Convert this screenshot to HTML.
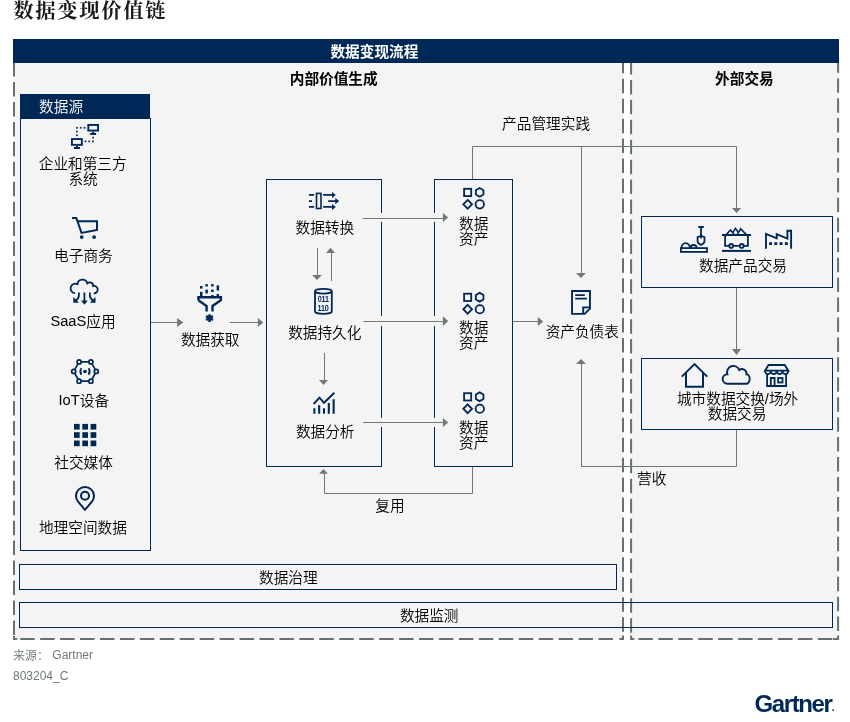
<!DOCTYPE html>
<html lang="zh-CN">
<head>
<meta charset="utf-8">
<title>数据变现价值链</title>
<style>
html,body{margin:0;padding:0;background:#fff;}
body{width:850px;height:722px;overflow:hidden;position:relative;}
svg{position:absolute;left:0;top:0;display:block;will-change:transform;}
text{font-family:"Liberation Sans","Noto Sans CJK SC",sans-serif;font-size:14.67px;font-weight:350;fill:#000;}
.t{font-family:"Liberation Serif","Noto Serif CJK SC",serif;font-size:20.4px;letter-spacing:1.6px;font-weight:700;fill:#1a1a1a;}
.b{font-weight:700;}
.w{fill:#fff;}
.c{text-anchor:middle;}
.g{fill:#6f7878;font-size:12px;}
.bx{fill:none;stroke:#002856;stroke-width:1;}
.ln{fill:none;stroke:#6f7878;stroke-width:1;}
.ah{fill:#6f7878;stroke:none;}
.dv{fill:none;stroke:#667070;stroke-width:2;stroke-dasharray:14.5 5.44;}
.ds{fill:none;stroke:#667070;stroke-width:2;}
.ic{fill:none;stroke:#002856;stroke-width:1.6;stroke-linejoin:miter;}
.icf{fill:#002856;stroke:none;}
.halo{fill:#f4f4f4;stroke:none;}
.dg{font-size:8.8px;font-weight:700;fill:#002856;letter-spacing:-0.25px;text-rendering:geometricPrecision;}
</style>
</head>
<body>
<svg width="850" height="722" viewBox="0 0 850 722">
<!-- title -->
<text class="t" x="13.2" y="18.4">数据变现价值链</text>

<!-- backgrounds -->
<rect x="14" y="63" width="609" height="576" fill="#f4f4f4"/>
<rect x="631" y="63" width="207" height="576" fill="#f4f4f4"/>

<!-- dashed frames -->
<g id="dashes">
<line class="dv" x1="14" y1="62.06" x2="14" y2="635"/>
<line class="dv" x1="623" y1="58.86" x2="623" y2="633"/>
<line class="dv" x1="631.1" y1="59.96" x2="631.1" y2="633.5"/>
<line class="dv" x1="838.1" y1="58.26" x2="838.1" y2="632"/>
<path class="ds" d="M14 636V639H17.2"/>
<line class="dv" x1="20.2" y1="639" x2="614" y2="639"/>
<path class="ds" d="M619.4 639H623V635.4"/>
<path class="ds" d="M631.1 635.4V639H634.3"/>
<line class="dv" x1="638.4" y1="639" x2="833" y2="639"/>
<path class="ds" d="M833 639H838.1V635.4"/>
</g>

<!-- header bar -->
<rect x="13" y="39" width="826" height="24" fill="#002856"/>
<text class="b w c" x="374.4" y="57">数据变现流程</text>
<text class="b c" x="333.7" y="84">内部价值生成</text>
<text class="b c" x="744.4" y="84">外部交易</text>

<!-- data source -->
<rect x="20" y="94" width="130" height="25" fill="#002856"/>
<text class="w" x="39.1" y="112">数据源</text>
<rect class="bx" x="20.5" y="118.5" width="130" height="432"/>
<text class="c" x="82.7" y="169">企业和第三方</text>
<text class="c" x="83.1" y="184">系统</text>
<text class="c" x="83.4" y="261">电子商务</text>
<text class="c" x="83.0" y="327"><tspan dy="-1">SaaS</tspan><tspan dy="1">应用</tspan></text>
<text class="c" x="83.8" y="406"><tspan dy="-1">IoT</tspan><tspan dy="1">设备</tspan></text>
<text class="c" x="83.6" y="468">社交媒体</text>
<text class="c" x="82.9" y="533">地理空间数据</text>

<!-- boxes -->
<rect class="bx" x="266.5" y="179.5" width="115" height="287"/>
<rect class="bx" x="434.5" y="179.5" width="78" height="287"/>
<rect class="bx" x="641.5" y="216.5" width="191" height="71"/>
<rect class="bx" x="641.5" y="358.5" width="191" height="71"/>
<rect class="bx" x="19.5" y="564.5" width="597" height="25"/>
<rect class="bx" x="19.5" y="602.5" width="813" height="25"/>

<!-- halos where arrows cross box borders -->
<rect class="halo" x="380" y="212.9" width="3" height="8.9"/>
<rect class="halo" x="380" y="315.9" width="3" height="10"/>
<rect class="halo" x="380" y="417.9" width="3" height="9"/>
<rect class="halo" x="433" y="212.9" width="3" height="8.9"/>
<rect class="halo" x="433" y="315.9" width="3" height="10"/>
<rect class="halo" x="433" y="417.9" width="3" height="9"/>

<!-- connector lines -->
<g id="lines">
<line class="ln" x1="151" y1="322.5" x2="178" y2="322.5"/>
<path class="ah" d="M177.2 318L183.3 322.5L177.2 327Z"/>
<line class="ln" x1="229.8" y1="322.5" x2="258.5" y2="322.5"/>
<path class="ah" d="M257.9 318L263.3 322.5L257.9 327Z"/>

<line class="ln" x1="362.8" y1="218.5" x2="443.5" y2="218.5"/>
<path class="ah" d="M442.9 213L448.2 217.6L442.9 222.1Z"/>
<line class="ln" x1="363.4" y1="321.5" x2="443.5" y2="321.5"/>
<path class="ah" d="M442.9 316.2L448.2 321.1L442.9 326Z"/>
<line class="ln" x1="363.2" y1="422.5" x2="443.5" y2="422.5"/>
<path class="ah" d="M442.9 418L448.2 422.5L442.9 427Z"/>

<line class="ln" x1="317.5" y1="248" x2="317.5" y2="276"/>
<path class="ah" d="M312.1 275H321.9L317 280Z"/>
<line class="ln" x1="331.5" y1="252" x2="331.5" y2="281"/>
<path class="ah" d="M326 252.9H335.1L330.55 247.8Z"/>
<line class="ln" x1="324.5" y1="353" x2="324.5" y2="381"/>
<path class="ah" d="M319 380.1H328L323.5 385Z"/>

<!-- reuse -->
<path class="ln" d="M472.5 467V493.5H324.5V473"/>
<path class="ah" d="M319.1 473.8H327.9L323.5 468.9Z"/>

<!-- product mgmt -->
<path class="ln" d="M472.5 179V146.5H736.5V208.5"/>
<path class="ah" d="M732 208H741.1L736.55 213Z"/>
<line class="ln" x1="581.5" y1="146.5" x2="581.5" y2="273.5"/>
<path class="ah" d="M576 272.9H585.9L581 277.9Z"/>

<!-- asset -> balance -->
<line class="ln" x1="513" y1="321.5" x2="538.5" y2="321.5"/>
<path class="ah" d="M537.9 317L543.2 321.5L537.9 326Z"/>

<!-- box4 -> box5 -->
<line class="ln" x1="736.5" y1="288" x2="736.5" y2="349.5"/>
<path class="ah" d="M732 349H741.1L736.55 355Z"/>

<!-- revenue -->
<path class="ln" d="M736.5 430V466.5H581.5V363"/>
<path class="ah" d="M576 363.9H586L581 358.9Z"/>
</g>

<!-- labels -->
<text class="c" x="210.2" y="345">数据获取</text>
<text class="c" x="324.8" y="233">数据转换</text>
<text class="c" x="324.8" y="338">数据持久化</text>
<text class="c" x="325.2" y="437">数据分析</text>
<text class="c" x="473.7" y="229">数据</text>
<text class="c" x="473.7" y="244">资产</text>
<text class="c" x="473.7" y="333">数据</text>
<text class="c" x="473.7" y="348">资产</text>
<text class="c" x="473.7" y="433">数据</text>
<text class="c" x="473.7" y="448">资产</text>
<text class="c" x="582.3" y="337">资产负债表</text>
<text class="c" x="546.1" y="129">产品管理实践</text>
<text class="c" x="390.0" y="511">复用</text>
<text class="c" x="651.7" y="484">营收</text>
<text class="c" x="743.0" y="271">数据产品交易</text>
<text class="c" x="737.6" y="404">城市数据交换/场外</text>
<text class="c" x="737.1" y="419">数据交易</text>
<text class="c" x="288.3" y="583">数据治理</text>
<text class="c" x="429.2" y="621">数据监测</text>

<!-- footer -->
<text class="g" x="13" y="660">来源：<tspan dy="-1"> Gartner</tspan></text>
<text class="g" x="13" y="680">803204_C</text>
<text x="754.6" y="711.8" style="font-weight:700;font-size:24px;fill:#002856;letter-spacing:-1.4px">Gartner<tspan style="font-size:10px;letter-spacing:0" dx="0.3" dy="-0.6">.</tspan></text>

<!-- ICONS -->
<g id="icons">
<!-- network / enterprise systems -->
<g class="ic" style="stroke-width:1.9">
<rect x="88.3" y="124.95" width="9.75" height="5.6"/>
<path d="M93.2 131.5V133.6M90.2 134H96.1"/>
<rect x="71.95" y="139.05" width="9.9" height="5.8"/>
<path d="M76.9 145.8V147.6M73.9 148.05H80"/>
</g>
<g class="icf">
<rect x="76.05" y="126.95" width="1.7" height="1.7"/><rect x="79.85" y="126.95" width="1.7" height="1.7"/><rect x="83.65" y="126.95" width="1.7" height="1.7"/>
<rect x="76.05" y="130.65" width="1.7" height="1.7"/><rect x="76.05" y="134.45" width="1.7" height="1.7"/>
<rect x="84.65" y="140.55" width="1.7" height="1.7"/><rect x="88.35" y="140.55" width="1.7" height="1.7"/><rect x="92.25" y="140.55" width="1.7" height="1.7"/>
<rect x="92.25" y="136.75" width="1.7" height="1.7"/>
</g>
<!-- shopping cart -->
<path class="ic" style="stroke-width:2" d="M72 218H76.3L81.5 232.9L97 229.9V221.2H77.5"/>
<circle class="icf" cx="81.7" cy="237.1" r="1.9"/><circle class="icf" cx="94.1" cy="237.1" r="1.9"/>
<!-- cloud with arrows (SaaS) -->
<path class="ic" style="stroke-width:1.8;stroke-linecap:butt" d="M75.1 293.2A4.8 4.8 0 1 1 77.5 284.1A5 5 0 0 1 87.35 283.4A3.4 3.4 0 0 1 93.2 286A3.7 3.7 0 1 1 93.7 293.3"/>
<path class="ic" style="stroke-width:1.8" d="M84.4 292.4V301M78.9 292.4V295.5Q78.9 298.6 75.5 300.6M89.9 292.4V295.5Q89.9 298.6 93.3 300.6"/>
<path class="icf" d="M81 300.5H87.8L84.4 304.8ZM73.3 296.9V302.7H79ZM95.5 296.9V302.7H89.8Z"/>
<!-- IoT -->
<g class="ic" style="stroke-width:1.7">
<path d="M79.1 361.9H90.9L96.3 371.4L90.9 381.2H79.1L73.7 371.4Z"/>
<circle cx="79.1" cy="361.9" r="2.05" fill="#f4f4f4"/><circle cx="90.9" cy="361.9" r="2.05" fill="#f4f4f4"/>
<circle cx="73.7" cy="371.4" r="2.05" fill="#f4f4f4"/><circle cx="96.3" cy="371.4" r="2.05" fill="#f4f4f4"/>
<circle cx="79.1" cy="381.2" r="2.05" fill="#f4f4f4"/><circle cx="90.9" cy="381.2" r="2.05" fill="#f4f4f4"/>
<path d="M81.4 368.3Q79.2 371.5 81.4 374.7M88.6 368.3Q90.8 371.5 88.6 374.7" style="stroke-width:1.8"/>
</g>
<circle class="icf" cx="85" cy="371.5" r="1.8"/>
<!-- grid -->
<g class="icf">
<rect x="74.0" y="423.9" width="5.7" height="5.7"/><rect x="82.3" y="423.9" width="5.7" height="5.7"/><rect x="90.6" y="423.9" width="5.7" height="5.7"/>
<rect x="74.0" y="432.2" width="5.7" height="5.7"/><rect x="82.3" y="432.2" width="5.7" height="5.7"/><rect x="90.6" y="432.2" width="5.7" height="5.7"/>
<rect x="74.0" y="440.5" width="5.7" height="5.7"/><rect x="82.3" y="440.5" width="5.7" height="5.7"/><rect x="90.6" y="440.5" width="5.7" height="5.7"/>
</g>
<!-- pin -->
<path class="ic" style="stroke-width:2" d="M85 509.8L78.1 501.7A9 9 0 1 1 91.9 501.7Z"/>
<circle class="ic" style="stroke-width:2" cx="85" cy="495.7" r="4"/>
<!-- funnel -->
<path class="ic" style="stroke-width:2.4" d="M198.4 300.2V297.3H220.9V300.2L212.5 306V311.6M198.4 300.2L206.6 306V311.6"/>
<g class="icf">
<rect x="200" y="286" width="2.5" height="2.6"/><rect x="200" y="291.8" width="2.5" height="5"/>
<rect x="205.4" y="284.1" width="2.5" height="2.4"/><rect x="205.4" y="289.6" width="2.5" height="3.8"/>
<rect x="211.1" y="284.1" width="2.5" height="2.4"/><rect x="211.1" y="289.6" width="2.5" height="2.5"/><rect x="211.1" y="295" width="2.5" height="1.5"/>
<rect x="216.6" y="285.4" width="2.5" height="5.1"/><rect x="216.6" y="294" width="2.5" height="2.6"/>
</g>
<path class="ic" style="stroke-width:2.5" d="M209.5 314.3V321.9M206 316.2L213 320M206 320L213 316.2"/>
<!-- transform -->
<g class="ic" style="stroke-width:1.7">
<path d="M308.9 194.9H314.1M308.9 201.1H312M308.9 206.9H314.1"/>
<rect x="316.5" y="193.4" width="4.5" height="15.1" style="stroke-width:1.6"/>
<path d="M323.1 194.9H333M328.2 201.1H336.5M323.1 206.9H333"/>
</g>
<path class="icf" d="M332 191.9L335.8 194.9L332 197.9ZM335.3 198L339.2 201.1L335.3 204.2ZM332 203.9L335.8 206.9L332 209.9Z"/>
<!-- database -->
<g class="ic" style="stroke-width:1.8">
<ellipse cx="323.4" cy="291.2" rx="8.4" ry="2.4"/>
<path d="M315 291.2V311.4A8.4 2.4 0 0 0 331.8 311.4V291.2"/>
</g>
<text class="dg" transform="translate(317.7 302.4) scale(0.82 1)">011</text>
<text class="dg" transform="translate(317.5 310.8) scale(0.82 1)">110</text>
<!-- chart -->
<g class="ic" style="stroke-width:2.1">
<path d="M314.35 408.2V413.8M319.15 405.2V413.8M324 408.2V413.8M328.8 403V413.8M333.65 399.2V413.8"/>
<path d="M313.6 404L319.5 397.7L324 402.8L334.4 392.7" style="stroke-width:1.9"/>
</g>
<!-- asset icons -->
<g class="ic" style="stroke-width:1.8" transform="translate(0 0)">
<rect x="464.1" y="188.8" width="7.1" height="7.3"/>
<path d="M479.65 188L483.45 190.15V194.55L479.65 196.7L475.85 194.55V190.15Z"/>
<path d="M467.65 199.95L472 204.35L467.65 208.75L463.3 204.35Z"/>
<circle cx="479.8" cy="204.35" r="4.2"/>
</g>
<g class="ic" style="stroke-width:1.8" transform="translate(0 104.9)">
<rect x="464.1" y="188.8" width="7.1" height="7.3"/>
<path d="M479.65 188L483.45 190.15V194.55L479.65 196.7L475.85 194.55V190.15Z"/>
<path d="M467.65 199.95L472 204.35L467.65 208.75L463.3 204.35Z"/>
<circle cx="479.8" cy="204.35" r="4.2"/>
</g>
<g class="ic" style="stroke-width:1.8" transform="translate(0 204.4)">
<rect x="464.1" y="188.8" width="7.1" height="7.3"/>
<path d="M479.65 188L483.45 190.15V194.55L479.65 196.7L475.85 194.55V190.15Z"/>
<path d="M467.65 199.95L472 204.35L467.65 208.75L463.3 204.35Z"/>
<circle cx="479.8" cy="204.35" r="4.2"/>
</g>
<!-- document -->
<g class="ic" style="stroke-width:1.9">
<path d="M572.05 290.95H589.95V308.6L584.7 313.85H572.05Z"/>
<path d="M583.2 313.5V307.4H589.6"/>
<path d="M575.2 295.1H584.8M575.2 298.7H586.9" style="stroke-width:1.7"/>
</g>
<!-- shovel -->
<g class="ic" style="stroke-width:1.8">
<rect x="680.9" y="248.1" width="26.1" height="3.8"/>
<path d="M681.5 248A4.2 4.9 0 0 1 689.9 248M690.6 248A3.05 3 0 0 1 696.7 248"/>
<path d="M698.3 227H703.8M701 227V238.6"/>
<path d="M697.6 237.2Q699.6 236.6 701 235.4Q702.4 236.6 704.5 237.2V241Q704.5 243.5 701 244.9Q697.6 243.5 697.6 241Z"/>
</g>
<!-- mine cart -->
<g class="ic" style="stroke-width:1.8">
<path d="M722 235H751M725.1 235V245.9H747.9V235"/>
<circle cx="731.2" cy="245.9" r="1.9" fill="#f4f4f4"/><circle cx="741.7" cy="245.9" r="1.9" fill="#f4f4f4"/>
<path d="M722 250.9H751" style="stroke-width:2"/>
<path d="M726.3 234.6L730.5 229.9L734 234.2M733 232.4L735.5 228.4L738.2 232.2M737.3 234.4L740.7 228.9L746.3 234.6" style="stroke-width:1.6"/>
</g>
<!-- factory -->
<path class="ic" style="stroke-width:1.9" d="M766 248.8V233.9L776.7 238.4V234.2L787.4 238.6V230.7H791.1V248.8"/>
<g class="icf"><rect x="769.1" y="242.2" width="2.9" height="2.8"/><rect x="774.3" y="242.2" width="2.9" height="2.8"/><rect x="779.6" y="242.2" width="2.9" height="2.8"/><rect x="784.9" y="242.2" width="2.9" height="2.8"/></g>
<!-- house -->
<path class="ic" style="stroke-width:2" d="M681.8 376.6L694.5 364.1L707.2 376.6M686 373V386.8H703V373"/>
<!-- cloud -->
<path class="ic" style="stroke-width:1.9" d="M727.4 383.8A4.75 4.75 0 0 1 727.4 374.3A6.3 6.3 0 0 1 739.3 370.1A4.4 4.4 0 0 1 746.4 374.3A3.5 4.75 0 0 1 746 383.8Z"/>
<!-- store -->
<g class="ic" style="stroke-width:1.8">
<path d="M765 370.7L768.5 365H784.7L788.3 370.7Z"/>
<path d="M765 370.7A2.91 3.4 0 0 0 770.82 370.7A2.91 3.4 0 0 0 776.65 370.7A2.91 3.4 0 0 0 782.47 370.7A2.91 3.4 0 0 0 788.3 370.7"/>
<path d="M767.1 374V386H786.1V374"/>
<path d="M770.8 386V378H774.6V386"/>
<rect x="778.1" y="378" width="4.4" height="4.5"/>
</g>
</g>

</svg>
</body>
</html>
